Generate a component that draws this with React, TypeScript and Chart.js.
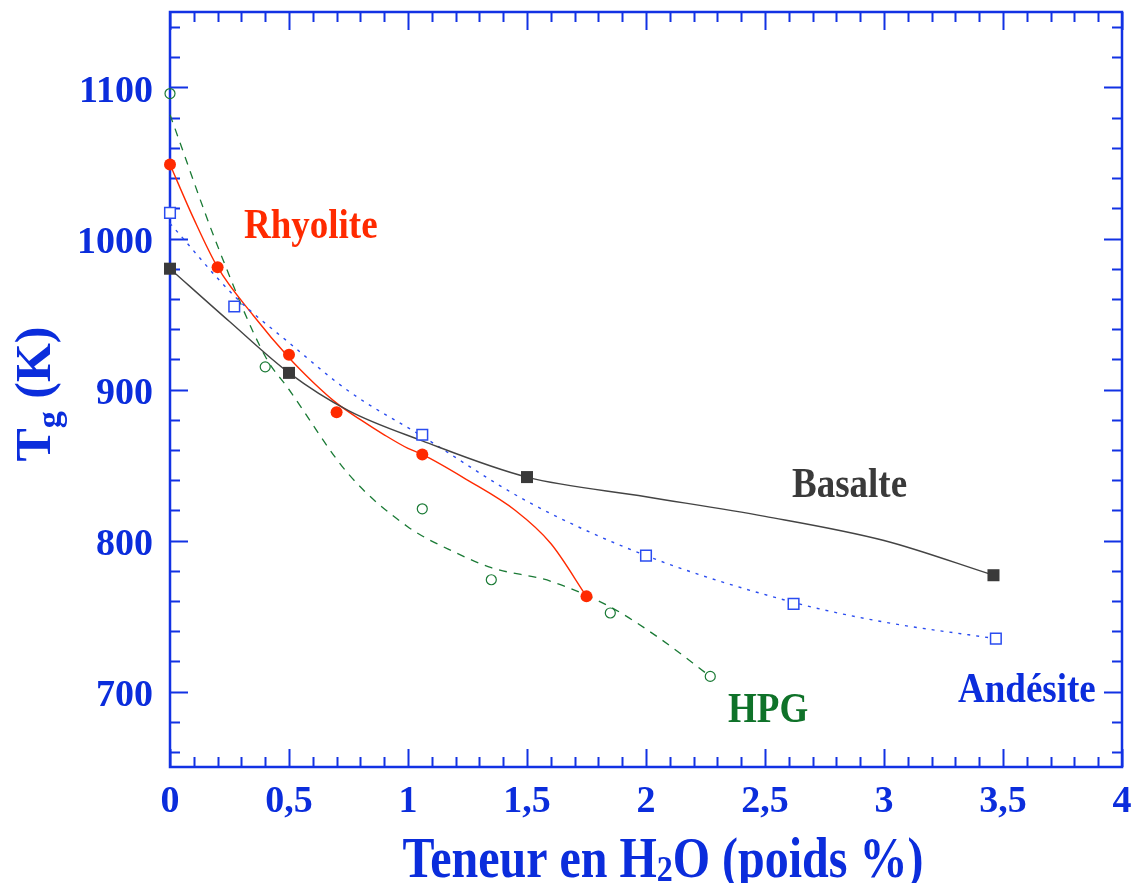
import React, { useEffect, useRef } from "react";
import { Chart, registerables } from "chart.js";

Chart.register(...registerables);

// ---- Data ----
const xTickValues = [0, 0.5, 1, 1.5, 2, 2.5, 3, 3.5, 4];
const yTickValues = [700, 800, 900, 1000, 1100];

// Measured points
const basalteX = [0, 0.5, 1.5, 3.46];
const basalteY = [980, 911, 842, 777];
const andesiteX = [0, 0.27, 1.06, 2.0, 2.62, 3.47];
const andesiteY = [1017, 955, 870, 790, 758, 735];
const rhyoliteX = [0, 0.2, 0.5, 0.7, 1.06, 1.75];
const rhyoliteY = [1049, 981, 923, 885, 857, 763];
const hpgX = [0, 0.4, 1.06, 1.35, 1.85, 2.27];
const hpgY = [1096, 915, 821, 774, 752, 710];

// Fitted curves as traced on the picture
const basalteCurveX = [0, 0.25, 0.5, 0.75, 1.06, 1.5, 2.0, 2.5, 3.0, 3.46];
const basalteCurveY = [980, 945, 911, 886, 866, 842, 829, 816, 800, 777];
const andesiteCurveX = [0, 0.27, 0.5, 0.75, 1.06, 1.5, 2.0, 2.62, 3.0, 3.47];
const andesiteCurveY = [1010, 962, 931, 899, 869, 826, 790, 759, 746, 735];
const rhyoliteCurveX = [0, 0.1, 0.2, 0.35, 0.5, 0.6, 0.7, 0.8, 0.9, 1.0, 1.06, 1.25, 1.45, 1.6, 1.75];
const rhyoliteCurveY = [1049, 1013, 981, 949, 921, 905, 891, 880, 870, 861, 857, 840, 820, 798, 763];
const hpgCurveX = [0, 0.2, 0.4, 0.5, 0.75, 1.0, 1.2, 1.35, 1.6, 1.85, 2.05, 2.27];
const hpgCurveY = [1082, 995, 922, 900, 844, 809, 792, 782, 773, 756, 736, 710];

const seriesLabels = ["Rhyolite", "Basalte", "Andésite", "HPG"];

const BLUE = "#1232e4";
const TEXT_BLUE = "#0b2ddc";
const RED = "#ff2a00";
const DARK = "#3a3a3a";
const GREEN = "#0f7229";
const SERIF = '"Liberation Serif", "Times New Roman", serif';

const pts = (xs: number[], ys: number[]) => xs.map((x, i) => ({ x, y: ys[i] }));

function drawStretched(
  ctx: CanvasRenderingContext2D,
  text: string,
  x: number,
  y: number,
  size: number,
  color: string,
  stretch: number
) {
  ctx.save();
  ctx.font = `bold ${size}px ${SERIF}`;
  ctx.fillStyle = color;
  ctx.textAlign = "left";
  ctx.textBaseline = "alphabetic";
  ctx.translate(x, y);
  ctx.scale(1, stretch);
  ctx.fillText(text, 0, 0);
  ctx.restore();
}

const framePlugin = {
  id: "frameTicks",
  beforeDatasetsDraw(chart: any) {
    const { ctx, chartArea } = chart;
    const { left, right, top, bottom } = chartArea;
    const xs = chart.scales.x;
    const ys = chart.scales.y;
    ctx.save();
    ctx.strokeStyle = BLUE;
    ctx.lineWidth = 2;
    ctx.beginPath();
    for (let i = 0; i <= 40; i++) {
      const v = i / 10;
      const px = Math.round(xs.getPixelForValue(v)) + 0.5;
      const len = i % 5 === 0 ? 18 : 10;
      ctx.moveTo(px, bottom);
      ctx.lineTo(px, bottom - len);
      ctx.moveTo(px, top);
      ctx.lineTo(px, top + len);
    }
    for (let v = 660; v <= 1140; v += 20) {
      const py = Math.round(ys.getPixelForValue(v)) + 0.5;
      const len = v % 100 === 0 ? 18 : 10;
      ctx.moveTo(left, py);
      ctx.lineTo(left + len, py);
      ctx.moveTo(right, py);
      ctx.lineTo(right - len, py);
    }
    ctx.stroke();
    ctx.lineWidth = 2.5;
    ctx.strokeRect(left, top, right - left, bottom - top);
    ctx.restore();
  },
  afterDraw(chart: any) {
    const { ctx } = chart;
    // Series labels
    drawStretched(ctx, seriesLabels[0], 244, 238, 37, RED, 1.15);
    drawStretched(ctx, seriesLabels[1], 792, 497, 37, DARK, 1.15);
    drawStretched(ctx, seriesLabels[2], 958, 702, 37, TEXT_BLUE, 1.15);
    drawStretched(ctx, seriesLabels[3], 728, 722, 37, GREEN, 1.15);

    // X axis title with subscript
    ctx.save();
    const big = 48;
    const small = 32;
    const p1 = "Teneur en H";
    const p2 = "2";
    const p3 = "O (poids %)";
    ctx.font = `bold ${big}px ${SERIF}`;
    const w1 = ctx.measureText(p1).width;
    const w3 = ctx.measureText(p3).width;
    ctx.font = `bold ${small}px ${SERIF}`;
    const w2 = ctx.measureText(p2).width;
    const total = w1 + w2 + w3;
    const cx = 663;
    const base = 877;
    let x0 = cx - total / 2;
    drawStretched(ctx, p1, x0, base, big, TEXT_BLUE, 1.2);
    drawStretched(ctx, p2, x0 + w1, base + 4, small, TEXT_BLUE, 1.1);
    drawStretched(ctx, p3, x0 + w1 + w2, base, big, TEXT_BLUE, 1.2);
    ctx.restore();

    // Y axis title rotated
    ctx.save();
    const yb = 50;
    const s1 = "T";
    const s2 = "g";
    const s3 = " (K)";
    const ybig = 50;
    const ysmall = 34;
    ctx.font = `bold ${ybig}px ${SERIF}`;
    const t1 = ctx.measureText(s1).width;
    const t3 = ctx.measureText(s3).width;
    ctx.font = `bold ${ysmall}px ${SERIF}`;
    const t2 = ctx.measureText(s2).width;
    const tot = t1 + t2 + t3;
    ctx.translate(yb, 394);
    ctx.rotate(-Math.PI / 2);
    const sx = -tot / 2;
    drawStretched(ctx, s1, sx, 0, ybig, TEXT_BLUE, 1);
    drawStretched(ctx, s2, sx + t1, 10, ysmall, TEXT_BLUE, 1);
    drawStretched(ctx, s3, sx + t1 + t2, 0, ybig, TEXT_BLUE, 1);
    ctx.restore();
  },
};

export default function App() {
  const ref = useRef<HTMLCanvasElement | null>(null);

  useEffect(() => {
    if (!ref.current) return;
    const curve = (data: any, color: string, dash: number[], width: number) => ({
      type: "line" as const,
      data,
      showLine: true,
      borderColor: color,
      borderWidth: width,
      borderDash: dash,
      pointRadius: 0,
      fill: false,
      clip: false,
      cubicInterpolationMode: "monotone" as const,
      order: 2,
    });
    const chart = new Chart(ref.current, {
      type: "scatter",
      data: {
        datasets: [
          curve(pts(basalteCurveX, basalteCurveY), "#444444", [], 1.4),
          curve(pts(andesiteCurveX, andesiteCurveY), "#2a4cf0", [3, 6], 1.4),
          curve(pts(rhyoliteCurveX, rhyoliteCurveY), RED, [], 1.4),
          curve(pts(hpgCurveX, hpgCurveY), "#1a7a35", [8, 7], 1.3),
          {
            label: seriesLabels[1],
            data: pts(basalteX, basalteY),
            pointStyle: "rect",
            pointRadius: 8.5,
            backgroundColor: DARK,
            borderColor: DARK,
            borderWidth: 0,
            clip: false,
            order: 1,
          },
          {
            label: seriesLabels[2],
            data: pts(andesiteX, andesiteY),
            pointStyle: "rect",
            pointRadius: 7.5,
            backgroundColor: "#ffffff",
            borderColor: "#2a4cf0",
            borderWidth: 1.5,
            clip: false,
            order: 1,
          },
          {
            label: seriesLabels[0],
            data: pts(rhyoliteX, rhyoliteY),
            pointStyle: "circle",
            pointRadius: 6,
            backgroundColor: RED,
            borderColor: RED,
            borderWidth: 0,
            clip: false,
            order: 1,
          },
          {
            label: seriesLabels[3],
            data: pts(hpgX, hpgY),
            pointStyle: "circle",
            pointRadius: 5,
            backgroundColor: "rgba(255,255,255,0)",
            borderColor: "#1a7a35",
            borderWidth: 1.2,
            clip: false,
            order: 1,
          },
        ] as any,
      },
      options: {
        animation: false,
        responsive: false,
        layout: { padding: { left: 0, top: 12, right: 6, bottom: 0 } },
        plugins: {
          legend: { display: false },
          tooltip: { enabled: false },
        },
        scales: {
          x: {
            type: "linear",
            min: 0,
            max: 4,
            grid: { display: false, drawTicks: false },
            border: { display: false },
            afterFit: (s: any) => {
              s.height = 116;
              s.paddingLeft = 0;
              s.paddingRight = 0;
              s.paddingTop = 0;
              s.paddingBottom = 0;
            },
            afterBuildTicks: (s: any) => {
              s.ticks = xTickValues.map((v) => ({ value: v }));
            },
            ticks: {
              padding: 12,
              color: TEXT_BLUE,
              font: { family: SERIF, size: 38, weight: "bold" },
              maxRotation: 0,
              autoSkip: false,
              callback: (v: any) => String(v).replace(".", ","),
            },
          },
          y: {
            type: "linear",
            min: 650,
            max: 1150,
            grid: { display: false, drawTicks: false },
            border: { display: false },
            afterFit: (s: any) => {
              s.width = 170;
              s.paddingLeft = 0;
              s.paddingRight = 0;
              s.paddingTop = 0;
              s.paddingBottom = 0;
            },
            afterBuildTicks: (s: any) => {
              s.ticks = yTickValues.map((v) => ({ value: v }));
            },
            ticks: {
              padding: 17,
              labelOffset: 5,
              color: TEXT_BLUE,
              font: { family: SERIF, size: 38, weight: "bold" },
              autoSkip: false,
              callback: (v: any) => String(v),
            },
          },
        },
      } as any,
      plugins: [framePlugin],
    });
    return () => chart.destroy();
  }, []);

  return (
    <div style={{ position: "absolute", left: 0, top: 0, width: 1131, height: 883, background: "#fff" }}>
      <canvas ref={ref} width={1131} height={883} style={{ display: "block" }} />
    </div>
  );
}
